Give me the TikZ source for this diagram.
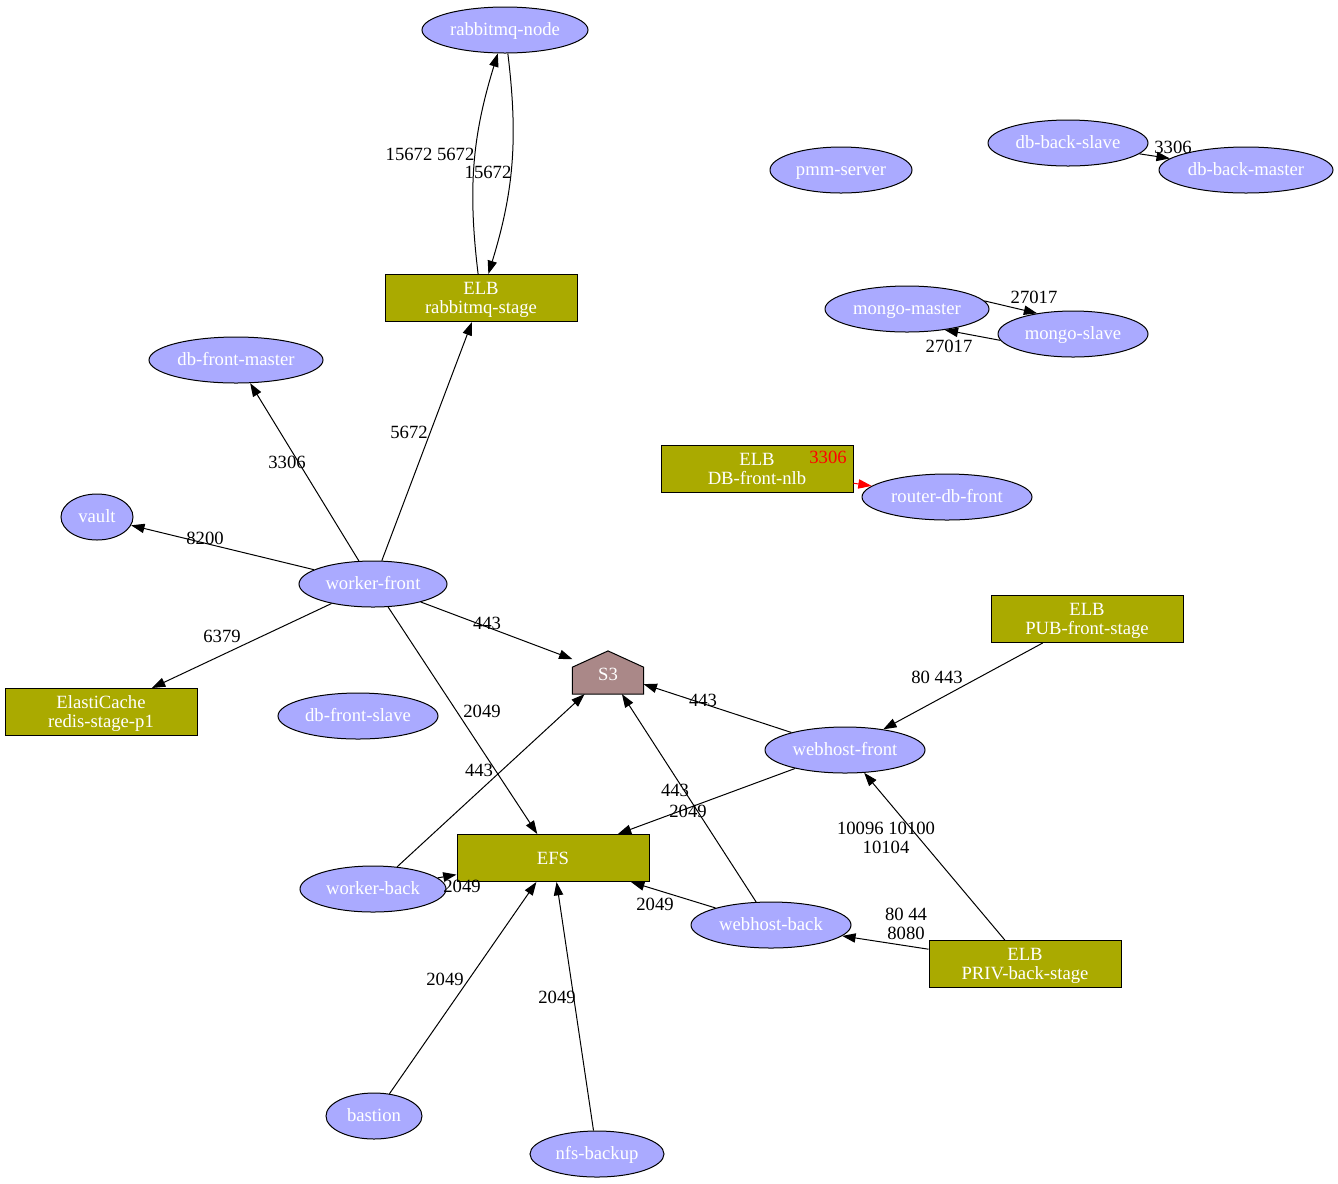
\documentclass[tikz,border=0pt]{standalone}
\usepackage{fontspec}
\setmainfont{Liberation Serif}
\usetikzlibrary{shapes.geometric,arrows.meta,backgrounds}

\definecolor{hostblue}{HTML}{AAAAFF}
\definecolor{elbolive}{HTML}{AAAA00}
\definecolor{bucketpink}{HTML}{AA8888}

\tikzset{
  every node/.style={font=\fontsize{14}{14.25}\selectfont},
  host/.style={ellipse, draw, line width=0.75pt, fill=hostblue, text=white,
    minimum height=34.5pt, inner sep=0pt, text height=8pt, text depth=0pt},
  elb/.style={rectangle, draw, line width=0.75pt, fill=elbolive, text=white,
    minimum width=144pt, minimum height=35.25pt, align=center, inner sep=0pt,
    text height=23.25pt, text depth=0pt},
  bucket/.style={rectangle, text=white, minimum width=53pt, minimum height=32pt, inner sep=0pt,
    text height=12.5pt, text depth=0pt},
  port/.style={align=center, inner sep=0pt},
  link/.style={-{Triangle[length=10pt,width=7pt]}, line width=0.75pt},
}

\begin{document}
\begin{tikzpicture}[x=0.75pt, y=0.75pt]
\useasboundingbox (0,0) rectangle (1338,-1183);

% hosts
\node[host, minimum width=124.5pt] (rabbitmq-node) at (505,-30) {rabbitmq-node};
\node[host, minimum width=106.5pt] (pmm-server) at (841,-170) {pmm-server};
\node[host, minimum width=120pt] (db-back-slave) at (1068,-143) {db-back-slave};
\node[host, minimum width=130.5pt] (db-back-master) at (1246,-170) {db-back-master};
\node[host, minimum width=123pt] (mongo-master) at (907,-309) {mongo-master};
\node[host, minimum width=112.5pt] (mongo-slave) at (1073,-334) {mongo-slave};
\node[host, minimum width=130.5pt] (db-front-master) at (236,-360) {db-front-master};
\node[host, minimum width=54pt] (vault) at (97,-517) {vault};
\node[host, minimum width=127.5pt] (router-db-front) at (947,-497) {router-db-front};
\node[host, minimum width=111pt] (worker-front) at (373,-584) {worker-front};
\node[host, minimum width=120pt] (db-front-slave) at (358,-716) {db-front-slave};
\node[host, minimum width=120pt] (webhost-front) at (845,-750) {webhost-front};
\node[host, minimum width=109.5pt] (worker-back) at (373,-889) {worker-back};
\node[host, minimum width=120pt] (webhost-back) at (771,-925) {webhost-back};
\node[host, minimum width=72pt] (bastion) at (374,-1116) {bastion};
\node[host, minimum width=100.5pt] (nfs-backup) at (597,-1154) {nfs-backup};

% load balancers and storage
\node[elb] (elb-rabbitmq) at (481,-298) {ELB\\rabbitmq-stage};
\node[elb] (elb-db-front) at (757,-469) {ELB\\DB-front-nlb};
\node[elb] (elb-pub-front) at (1087,-619) {ELB\\PUB-front-stage};
\node[elb] (redis) at (101,-712) {ElastiCache\\redis-stage-p1};
\node[elb, text height=9pt] (efs) at (553,-858) {EFS};
\node[elb] (elb-priv-back) at (1025,-964) {ELB\\PRIV-back-stage};
\node[bucket] (s3) at (608,-672.5) {S3};
\begin{scope}[on background layer]
\draw[line width=0.75pt, fill=bucketpink] (s3.south west) -- (s3.south east)
  -- ([yshift=4pt]s3.east) -- (s3.north) -- ([yshift=4pt]s3.west) -- cycle;
\end{scope}

% connectors
\draw[link] (elb-rabbitmq) to[bend left=12] (rabbitmq-node);
\draw[link] (rabbitmq-node) to[bend left=12] (elb-rabbitmq);
\draw[link] (db-back-slave) -- (db-back-master);
\draw[link] (mongo-master.6) -- (mongo-slave.150);
\draw[link] (mongo-slave.185) -- (mongo-master.331);
\draw[link, red] (elb-db-front) -- (router-db-front);
\draw[link] (worker-front) -- (elb-rabbitmq);
\draw[link] (worker-front) -- (db-front-master);
\draw[link] (worker-front) -- (vault);
\draw[link] (worker-front) -- (redis);
\draw[link] (worker-front) -- (s3);
\draw[link] (worker-front) -- (efs);
\draw[link] (worker-back) -- (s3);
\draw[link] (worker-back) -- (efs);
\draw[link] (webhost-front) -- (s3);
\draw[link] (webhost-front) -- (efs);
\draw[link] (webhost-back) -- (s3);
\draw[link] (webhost-back) -- (efs);
\draw[link] (elb-pub-front) -- (webhost-front);
\draw[link] (elb-priv-back) -- (webhost-front);
\draw[link] (elb-priv-back) -- (webhost-back);
\draw[link] (bastion) -- (efs);
\draw[link] (nfs-backup) -- (efs);

% ports
\node[port] (p-rmq-up) at (430,-154) {15672 5672};
\node[port] (p-rmq-down) at (488,-172) {15672};
\node[port] (p-db-back) at (1173,-147) {3306};
\node[port] (p-mongo-up) at (1034,-297) {27017};
\node[port] (p-mongo-down) at (949,-346) {27017};
\node[port] (p-wf-rmq) at (409,-432) {5672};
\node[port] (p-wf-db) at (287,-462) {3306};
\node[port, text=red] (p-nlb) at (828,-457) {3306};
\node[port] (p-wf-vault) at (205,-538) {8200};
\node[port] (p-wf-s3) at (487,-623) {443};
\node[port] (p-wf-redis) at (222,-636) {6379};
\node[port] (p-pub) at (937,-677) {80 443};
\node[port] (p-whf-s3) at (703,-700) {443};
\node[port] (p-wf-efs) at (482,-711) {2049};
\node[port] (p-wb-s3) at (479,-770) {443};
\node[port] (p-whb-s3) at (675,-790) {443};
\node[port] (p-whf-efs) at (688,-811) {2049};
\node[port] (p-priv-front) at (886,-838) {10096 10100\\10104};
\node[port] (p-wb-efs) at (462,-886) {2049};
\node[port] (p-whb-efs) at (655,-904) {2049};
\node[port] (p-priv-back) at (906,-924) {80 44\\8080};
\node[port] (p-bastion) at (445,-979) {2049};
\node[port] (p-nfs) at (557,-997) {2049};
\end{tikzpicture}
\end{document}
